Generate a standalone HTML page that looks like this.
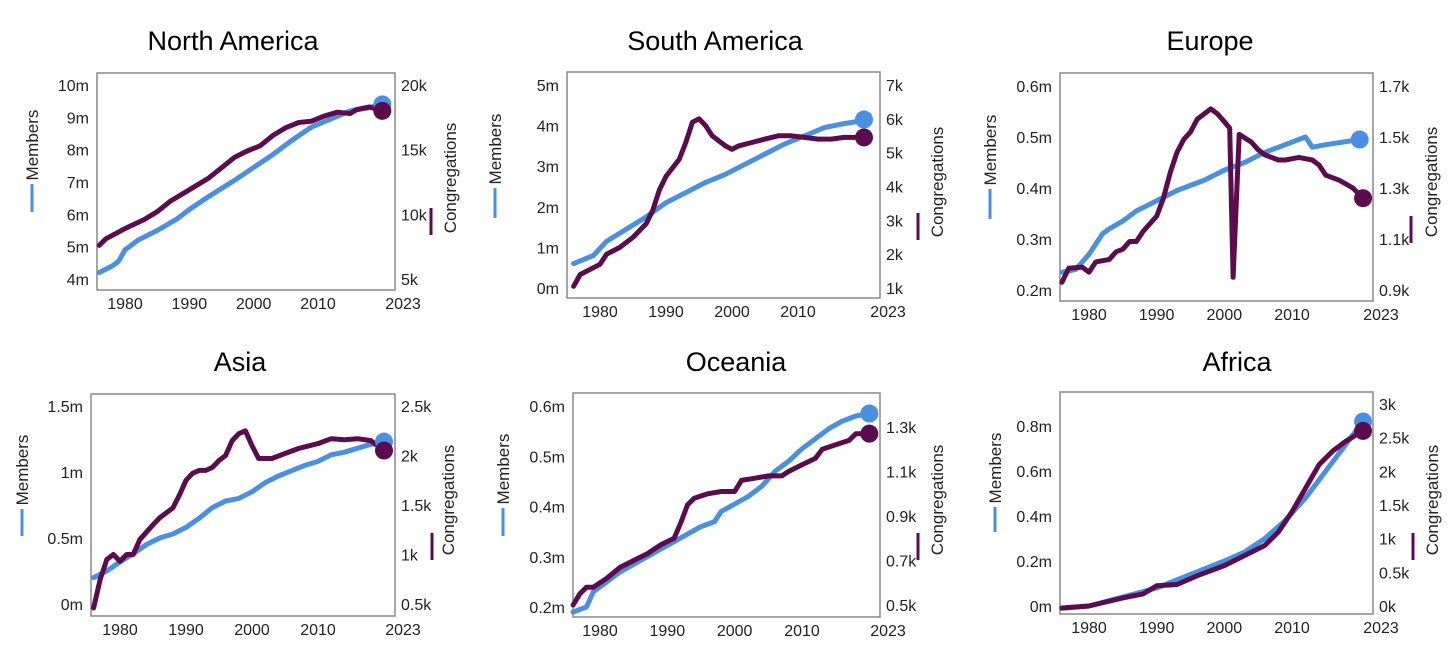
<!DOCTYPE html>
<html><head><meta charset="utf-8">
<style>
html,body{margin:0;padding:0;background:#fff;}
svg{display:block;font-family:"Liberation Sans",sans-serif;}
</style></head>
<body>
<svg id="c" width="1456" height="663" viewBox="0 0 1456 663"></svg>
<script>
// ---- data ----
const naMemYears=[1976,1978,1979,1980,1982,1985,1988,1990,1993,1995,1997,2000,2003,2006,2009,2012,2015,2018,2020];
const naMem=[4.2,4.4,4.55,4.9,5.2,5.5,5.85,6.15,6.55,6.8,7.05,7.45,7.85,8.3,8.7,8.95,9.2,9.3,9.4];
const naCongYears=[1976,1977,1980,1983,1985,1987,1990,1993,1995,1997,1999,2001,2003,2005,2007,2009,2011,2013,2015,2016,2018,2020];
const naCong=[7.6,8.1,8.9,9.6,10.2,11.0,11.9,12.8,13.6,14.4,14.9,15.3,16.1,16.7,17.1,17.2,17.6,17.9,17.8,18.1,18.3,18.0];

const saMemYears=[1976,1979,1981,1984,1987,1990,1993,1996,1999,2002,2005,2008,2011,2014,2017,2019,2020];
const saMem=[0.6,0.8,1.15,1.45,1.75,2.1,2.35,2.6,2.8,3.05,3.3,3.55,3.75,3.95,4.05,4.1,4.15];
const saCongYears=[1976,1977,1979,1980,1981,1983,1985,1987,1988,1989,1990,1992,1993,1994,1995,1996,1997,1999,2000,2001,2003,2005,2007,2009,2011,2013,2015,2017,2020];
const saCong=[1.05,1.4,1.6,1.7,2.0,2.2,2.5,2.9,3.3,3.9,4.3,4.8,5.3,5.9,6.0,5.8,5.5,5.2,5.1,5.2,5.3,5.4,5.5,5.5,5.45,5.4,5.4,5.45,5.45];

const euMemYears=[1976,1978,1980,1982,1983,1985,1987,1990,1993,1995,1997,2000,2003,2006,2009,2011,2012,2013,2015,2020];
const euMem=[0.235,0.24,0.27,0.31,0.32,0.335,0.355,0.375,0.395,0.405,0.415,0.435,0.45,0.47,0.485,0.495,0.5,0.48,0.485,0.495];
const euCongYears=[1976,1977,1979,1980,1981,1983,1984,1985,1986,1987,1988,1990,1991,1992,1993,1994,1995,1996,1998,1999,2000,2000.8,2001.3,2002.2,2004,2005,2006,2008,2009,2011,2013,2014,2015,2017,2019,2020.5];
const euCong=[0.93,0.985,0.99,0.97,1.01,1.02,1.05,1.06,1.09,1.09,1.13,1.19,1.26,1.36,1.44,1.49,1.52,1.57,1.61,1.59,1.56,1.535,0.95,1.51,1.48,1.45,1.43,1.41,1.41,1.42,1.41,1.39,1.35,1.33,1.30,1.26];

const asMemYears=[1976,1978,1980,1982,1984,1986,1988,1990,1992,1994,1996,1998,2000,2002,2004,2006,2008,2010,2012,2014,2016,2018,2020];
const asMem=[0.2,0.25,0.32,0.38,0.45,0.5,0.53,0.58,0.65,0.73,0.78,0.8,0.85,0.92,0.97,1.01,1.05,1.08,1.13,1.15,1.18,1.21,1.23];
const asCongYears=[1976,1977,1978,1979,1980,1981,1982,1983,1985,1986,1988,1989,1990,1991,1992,1993,1994,1995,1996,1997,1998,1999,2000,2001,2003,2005,2007,2010,2012,2014,2016,2018,2020];
const asCong=[0.46,0.75,0.95,1.0,0.93,1.0,1.0,1.15,1.3,1.37,1.47,1.6,1.75,1.82,1.85,1.85,1.88,1.95,2.0,2.15,2.22,2.25,2.1,1.97,1.97,2.02,2.07,2.12,2.17,2.16,2.17,2.15,2.05];

const ocMemYears=[1976,1978,1979,1981,1983,1985,1987,1989,1991,1993,1995,1997,1998,2000,2002,2004,2006,2008,2010,2012,2014,2016,2018,2020];
const ocMem=[0.19,0.2,0.23,0.25,0.27,0.285,0.3,0.315,0.33,0.345,0.36,0.37,0.39,0.405,0.42,0.44,0.47,0.49,0.515,0.535,0.555,0.57,0.58,0.585];
const ocCongYears=[1976,1977,1978,1979,1981,1983,1985,1987,1989,1991,1992,1993,1994,1996,1998,2000,2001,2003,2005,2007,2008,2010,2012,2013,2015,2017,2018,2020];
const ocCong=[0.5,0.55,0.58,0.58,0.62,0.67,0.7,0.73,0.77,0.8,0.87,0.95,0.98,1.0,1.01,1.01,1.06,1.07,1.08,1.08,1.1,1.13,1.16,1.2,1.22,1.24,1.27,1.27];

const afMemYears=[1976,1980,1985,1990,1995,2000,2003,2006,2009,2012,2015,2018,2020.5];
const afMem=[-0.01,0.0,0.04,0.08,0.14,0.2,0.24,0.3,0.38,0.48,0.6,0.72,0.82];
const afCongYears=[1976,1980,1985,1988,1990,1993,1996,2000,2003,2006,2008,2010,2012,2014,2016,2018,2020.5];
const afCong=[-0.03,0.0,0.12,0.18,0.3,0.32,0.45,0.6,0.75,0.9,1.1,1.4,1.75,2.1,2.3,2.45,2.6];

const naLeftTicks=["10m","9m","8m","7m","6m","5m","4m"], naRightTicks=["20k","15k","10k","5k"];
const saLeftTicks=["5m","4m","3m","2m","1m","0m"], saRightTicks=["7k","6k","5k","4k","3k","2k","1k"];
const euLeftTicks=["0.6m","0.5m","0.4m","0.3m","0.2m"], euRightTicks=["1.7k","1.5k","1.3k","1.1k","0.9k"];
const asLeftTicks=["1.5m","1m","0.5m","0m"], asRightTicks=["2.5k","2k","1.5k","1k","0.5k"];
const ocLeftTicks=["0.6m","0.5m","0.4m","0.3m","0.2m"], ocRightTicks=["1.3k","1.1k","0.9k","0.7k","0.5k"];
const afLeftTicks=["0.8m","0.6m","0.4m","0.2m","0m"], afRightTicks=["3k","2.5k","2k","1.5k","1k","0.5k","0k"];
const yearTicks=["1980","1990","2000","2010","2023"];

// ---- layout ----
const panels=[
 {name:"north-america",title:"North America",tx:233,ty:40,box:[97,73,395,290],x80:125,x10:318,
  lmax:10,lmin:4,ltop:85,lbot:279,rmax:20,rmin:5,rtop:85,rbot:279,ml:[32,145,212],cl:[450,178,235,431],
  my:naMemYears,mv:naMem,cy:naCongYears,cv:naCong,lt:naLeftTicks,rt:naRightTicks},
 {name:"south-america",title:"South America",tx:715,ty:40,box:[567,72,880,298],x80:600,x10:798,
  lmax:5,lmin:0,ltop:85,lbot:288,rmax:7,rmin:1,rtop:85,rbot:288,ml:[495,149,218],cl:[937,182,240,918],
  my:saMemYears,mv:saMem,cy:saCongYears,cv:saCong,lt:saLeftTicks,rt:saRightTicks},
 {name:"europe",title:"Europe",tx:1210,ty:40,box:[1060,73,1373,301],x80:1089,x10:1292,
  lmax:0.6,lmin:0.2,ltop:86,lbot:290,rmax:1.7,rmin:0.9,rtop:86,rbot:290,ml:[990,150,219],cl:[1431,182,243,1411],
  my:euMemYears,mv:euMem,cy:euCongYears,cv:euCong,lt:euLeftTicks,rt:euRightTicks},
 {name:"asia",title:"Asia",tx:240,ty:361,box:[91,394,395,616],x80:120,x10:318,
  lmax:1.5,lmin:0,ltop:406,lbot:604,rmax:2.5,rmin:0.5,rtop:406,rbot:604,ml:[22,470,536],cl:[448,500,560,432],
  my:asMemYears,mv:asMem,cy:asCongYears,cv:asCong,lt:asLeftTicks,rt:asRightTicks},
 {name:"oceania",title:"Oceania",tx:736,ty:361,box:[573,393,880,617],x80:600,x10:802,
  lmax:0.6,lmin:0.2,ltop:406,lbot:607,rmax:1.3,rmin:0.5,rtop:427,rbot:605,ml:[503,469,536],cl:[937,500,560,918],
  my:ocMemYears,mv:ocMem,cy:ocCongYears,cv:ocCong,lt:ocLeftTicks,rt:ocRightTicks},
 {name:"africa",title:"Africa",tx:1237,ty:361,box:[1060,392,1373,614],x80:1089,x10:1292,
  lmax:0.8,lmin:0,ltop:426,lbot:606,rmax:3,rmin:0,rtop:404,rbot:606,ml:[995,468,532],cl:[1432,500,560,1413],
  my:afMemYears,mv:afMem,cy:afCongYears,cv:afCong,lt:afLeftTicks,rt:afRightTicks}
];
const NS="http://www.w3.org/2000/svg";
const svg=document.getElementById('c');
function mk(tag,attrs,parent){const e=document.createElementNS(NS,tag);for(const k in attrs)e.setAttribute(k,attrs[k]);(parent||svg).appendChild(e);return e;}
const BLUE="#4a8fe0",PURP="#5b0c4c";
panels.forEach(p=>{
  const g=mk('g',{});
  
  
  const [x0,y0,x1,y1]=p.box;
  const xs=v=>p.x80+(v-1980)*(p.x10-p.x80)/30;
  const ls=v=>p.lbot+(v-p.lmin)*(p.ltop-p.lbot)/(p.lmax-p.lmin);
  const rs=v=>p.rbot+(v-p.rmin)*(p.rtop-p.rbot)/(p.rmax-p.rmin);
  const t=mk('text',{x:p.tx,y:p.ty+10,'text-anchor':'middle','font-size':27,fill:'#000'},g);t.textContent=p.title;
  
  
  const r=mk('rect',{x:x0,y:y0,width:x1-x0,height:y1-y0,fill:'#fff',stroke:'#888','stroke-width':1.5},g);
  
  
  p.lt.forEach(s=>{const v=parseFloat(s);const e=mk('text',{x:x0-8,y:ls(v)+6,'text-anchor':'end','font-size':16,fill:'#222'},g);e.textContent=s;
    
    });
  p.rt.forEach(s=>{const v=parseFloat(s);const e=mk('text',{x:x1+6,y:rs(v)+6,'text-anchor':'start','font-size':16,fill:'#222'},g);e.textContent=s;
    
    });
  yearTicks.forEach(s=>{const v=parseFloat(s);const xx=v===2023?x1+8:xs(v);const e=mk('text',{x:xx,y:y1+19,'text-anchor':'middle','font-size':16,fill:'#222'},g);e.textContent=s;
    
    });
  const [mx,mc,mlb]=p.ml;
  const mt=mk('text',{x:mx+6,y:mc,transform:`rotate(-90 ${mx+6} ${mc})`,'text-anchor':'middle','font-size':17,fill:'#222'},g);mt.textContent="Members";
  
  
  const ml=mk('line',{x1:mx,y1:mc+39,x2:mx,y2:mlb,stroke:BLUE,'stroke-width':3},g);
  
  
  const [cx,cc,clb,clx]=p.cl;
  const ct=mk('text',{x:cx+6,y:cc,transform:`rotate(-90 ${cx+6} ${cc})`,'text-anchor':'middle','font-size':17,fill:'#222'},g);ct.textContent="Congregations";
  
  
  const cl=mk('line',{x1:clx,y1:clb-27,x2:clx,y2:clb,stroke:PURP,'stroke-width':3},g);
  
  
  const mpts=p.my.map((y,i)=>xs(y).toFixed(1)+','+ls(p.mv[i]).toFixed(1)).join(' ');
  const mp=mk('polyline',{points:mpts,fill:'none',stroke:BLUE,'stroke-width':5,'stroke-linejoin':'round','stroke-linecap':'round'},g);
  
  
  const cpts=p.cy.map((y,i)=>xs(y).toFixed(1)+','+rs(p.cv[i]).toFixed(1)).join(' ');
  const cp=mk('polyline',{points:cpts,fill:'none',stroke:PURP,'stroke-width':5,'stroke-linejoin':'round','stroke-linecap':'round'},g);
  
  
  const n=p.my.length-1,m=p.cy.length-1;
  const d1=mk('circle',{cx:xs(p.my[n]),cy:ls(p.mv[n]),r:9,fill:BLUE},g);
  
  
  const d2=mk('circle',{cx:xs(p.cy[m]),cy:rs(p.cv[m]),r:9,fill:PURP},g);
  
  
});
</script>
</body></html>
